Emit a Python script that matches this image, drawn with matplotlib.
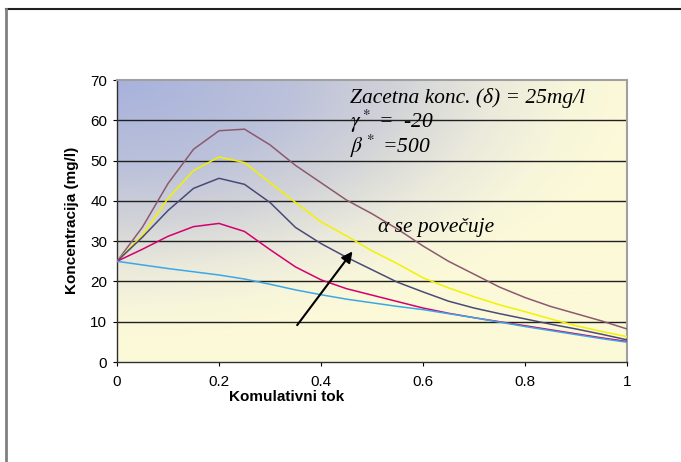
import numpy as np
import matplotlib.pyplot as plt
from matplotlib.colors import LinearSegmentedColormap
from matplotlib.lines import Line2D

plt.rcParams['font.family'] = ['Liberation Sans', 'DejaVu Sans']
plt.rcParams['mathtext.fontset'] = 'stix'

x = [0, 0.05, 0.1, 0.15, 0.2, 0.25, 0.3, 0.35, 0.4, 0.45, 0.5,
     0.55, 0.6, 0.65, 0.7, 0.75, 0.8, 0.85, 0.9, 0.95, 1.0]

mauve = [25, 33.5, 44.3, 52.8, 57.4, 57.8, 53.9, 48.8, 44.5, 40.2, 36.8,
         33.0, 28.8, 25.0, 21.8, 18.6, 16.0, 13.8, 12.0, 10.2, 8.2]
yellow = [25, 31.5, 40.6, 47.5, 50.9, 49.5, 44.5, 39.6, 34.8, 31.3, 27.6,
          24.4, 20.9, 18.4, 16.2, 14.2, 12.5, 10.7, 9.0, 7.6, 6.3]
slate = [25, 31.0, 37.6, 43.1, 45.6, 44.1, 39.6, 33.4, 29.4, 26.0, 22.9,
         19.8, 17.4, 15.1, 13.4, 12.0, 10.7, 9.4, 8.2, 6.9, 5.5]
magenta = [25, 28.0, 31.2, 33.6, 34.4, 32.4, 27.9, 23.6, 20.4, 18.2, 16.6,
           15.0, 13.4, 12.1, 11.0, 10.0, 9.0, 8.0, 7.0, 6.0, 5.1]
blue = [25, 24.1, 23.2, 22.4, 21.6, 20.6, 19.3, 17.9, 16.7, 15.6, 14.7,
        13.8, 13.0, 12.0, 11.0, 9.9, 8.8, 7.8, 6.8, 5.8, 4.9]

series = [(mauve, '#8c5a6e'), (yellow, '#f2f200'), (slate, '#4a4a78'),
          (magenta, '#d4006e'), (blue, '#3aa8e8')]

fig = plt.figure(figsize=(6.81, 4.62), dpi=100)
ax = fig.add_axes([117/681, 100/462, 510/681, 282/462])

# background gradient spreading out from the top-left corner
gx, gy = np.meshgrid(np.linspace(0, 1, 300), np.linspace(1, 0, 300))
t = np.clip(np.sqrt(gx**2 + (1.1 * (1 - gy))**2) * 1.0, 0, 1)
cmap = LinearSegmentedColormap.from_list(
    'bg', [(0, '#a8b2dc'), (0.35, '#bcc2da'), (0.55, '#d2d3d8'),
           (0.75, '#ecebdc'), (0.9, '#f8f6da'), (1, '#fbf9d8')])
ax.imshow(t, cmap=cmap, extent=[0, 1, 0, 70], aspect='auto', zorder=0)

for yv in range(10, 70, 10):
    ax.axhline(yv, color='#202020', lw=1.0, zorder=1)

for vals, c in series:
    ax.plot(x, vals, color=c, lw=1.1, zorder=3)

ax.set_xlim(0, 1)
ax.set_ylim(0, 70)
ax.set_xticks([0, 0.2, 0.4, 0.6, 0.8, 1])
ax.set_xticklabels(['0', '0.2', '0.4', '0.6', '0.8', '1'])
ax.set_yticks(range(0, 71, 10))
ax.tick_params(labelsize=11, length=3, width=0.8, direction='out')
ax.tick_params(axis='y', pad=4)
ax.tick_params(axis='x', pad=6)
for s in ['top', 'right']:
    ax.spines[s].set_color('#a0a0a0')
    ax.spines[s].set_linewidth(1.5)
for s in ['left', 'bottom']:
    ax.spines[s].set_color('#303030')
    ax.spines[s].set_linewidth(1.0)

fig.text(72/681, 1 - 220/462, 'Koncentracija (mg/l)', fontsize=11,
         fontweight='bold', ha='center', va='center', rotation=90)
fig.text(287/681, 1 - 397/462, 'Komulativni tok', fontsize=11,
         fontweight='bold', ha='center', va='center')

tf = dict(family='Liberation Serif', style='italic', fontsize=15.5, zorder=4)
ax.text(0.457, 64.3, 'Zacetna konc. (δ) = 25mg/l', **tf)
ax.text(0.457, 58.2, r'$\gamma^*$ =  -20', **tf)
ax.text(0.457, 52.0, r'$\beta^*$ =500', **tf)
ax.text(0.512, 32.3, 'α se povečuje', **tf)

ax.annotate('', xy=(0.465, 28.0), xytext=(0.35, 8.6),
            arrowprops=dict(arrowstyle='-|>', color='black', lw=1.5,
                            mutation_scale=16), zorder=5)

fig.add_artist(Line2D([6/681, 1], [1 - 9/462, 1 - 9/462], color='#202020', lw=1.5))
fig.add_artist(Line2D([6/681, 6/681], [0, 1 - 9/462], color='#808080', lw=2))

fig.savefig('out.png', dpi=100)
